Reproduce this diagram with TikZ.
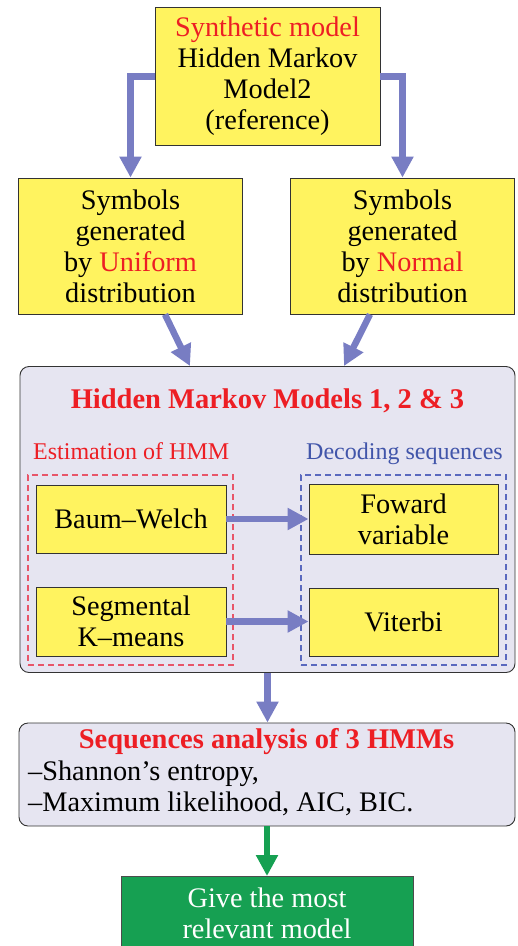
\documentclass[tikz,border=0pt]{standalone}
\usepackage{fontspec}
\setmainfont{Liberation Serif}
\usetikzlibrary{shapes,arrows.meta,positioning,calc}
\definecolor{boxyellow}{RGB}{255,243,95}
\definecolor{flowblue}{RGB}{120,125,195}
\definecolor{panelgray}{RGB}{230,229,241}
\definecolor{headred}{RGB}{237,30,36}
\definecolor{decblue}{RGB}{65,85,170}
\definecolor{dashred}{RGB}{232,85,105}
\definecolor{dashblue}{RGB}{90,105,190}
\definecolor{bestgreen}{RGB}{22,160,82}
\tikzset{
block/.style = {draw=black!80, fill=boxyellow, rectangle, align=center, inner sep=0pt, line width=0.9pt},
panel/.style = {draw=black!80, fill=panelgray, rectangle, rounded corners=9pt, line width=0.9pt, inner sep=0pt},
group/.style = {draw, rectangle, line width=1.1pt, dash pattern=on 6pt off 4pt, inner sep=0pt},
result/.style = {draw=black!70, fill=bestgreen, text=white, rectangle, align=center, inner sep=0pt, line width=0.9pt},
heading/.style = {font=\fontsize{28.5}{31}\selectfont\bfseries, text=headred, inner sep=0pt},
sublabel/.style = {font=\fontsize{24}{28}\selectfont, inner sep=0pt},
flow/.style = {-{Triangle[width=21pt,length=21pt]}, line width=6.5pt, draw=flowblue},
tmp/.style = {coordinate}
}
\begin{document}
\begin{tikzpicture}[x=1pt, y=-1pt, node distance=272pt, font=\fontsize{28.3}{31}\selectfont]
\useasboundingbox (0,0) rectangle (518,946);
% synthetic model and the two symbol sources
\node[block, minimum width=225pt, minimum height=138pt] (model) at (267.5,76.5) {\textcolor{headred}{Synthetic model}\\Hidden Markov\\Model2\\(reference)};
\node[block, minimum width=224pt, minimum height=136pt] (uniform) at (130.5,246) {Symbols\\generated\\by \textcolor{headred}{Uniform}\\distribution};
\node[block, minimum width=224pt, minimum height=136pt, right of=uniform] (normal) {Symbols\\generated\\by \textcolor{headred}{Normal}\\distribution};
\draw[flow] (model.west) -| (uniform.north);
\draw[flow] (model.east) -| (normal.north);
% the three HMMs
\node[panel, minimum width=495pt, minimum height=306pt] (hmms) at (267.5,519.5) {};
\node[heading, anchor=base] (hmmtitle) at (267.5,408) {Hidden Markov Models 1, 2 \& 3};
\node[sublabel, text=headred, anchor=base west] (estlabel) at (33,459) {Estimation of HMM};
\node[sublabel, text=decblue, anchor=base west] (declabel) at (306,459) {Decoding sequences};
\node[group, draw=dashred, minimum width=205pt, minimum height=190pt] (estim) at (130.5,570) {};
\node[group, draw=dashblue, minimum width=205pt, minimum height=190pt, right of=estim, node distance=273pt] (decod) {};
\node[block, minimum width=190pt, minimum height=68pt] (baum) at (131,519) {Baum--Welch};
\node[block, minimum width=190pt, minimum height=69pt, below of=baum, node distance=102.5pt] (segm) {Segmental\\K--means};
\node[block, minimum width=189pt, minimum height=70pt] (foward) at (403.5,519) {Foward\\variable};
\node[block, minimum width=189pt, minimum height=68pt, below of=foward, node distance=103pt] (viterbi) {Viterbi};
\draw[flow] (uniform.south -| 165,0) -- (hmms.north -| 190,0);
\draw[flow] (normal.south -| 370,0) -- (hmms.north -| 344,0);
\draw[flow] (baum.east) -- (foward.west);
\draw[flow] (segm.east) -- (segm.east -| viterbi.west);
% analysis and result
\node[panel, minimum width=496pt, minimum height=103pt] (analysis) at (267,774.5) {};
\node[heading, anchor=base] (antitle) at (266.5,748) {Sequences analysis of 3 HMMs};
\node[anchor=base west, align=left, inner sep=0pt] (measures) at (28,811) {--Shannon's entropy,\\--Maximum likelihood, AIC, BIC.};
\node[result, anchor=north, minimum width=292pt, minimum height=74pt] (best) at (267,876) {Give the most\\relevant model};
\draw[flow] (hmms.south) -- (hmms.south |- analysis.north);
\draw[flow, draw=bestgreen] (analysis.south) -- (best.north);
\end{tikzpicture}
\end{document}
